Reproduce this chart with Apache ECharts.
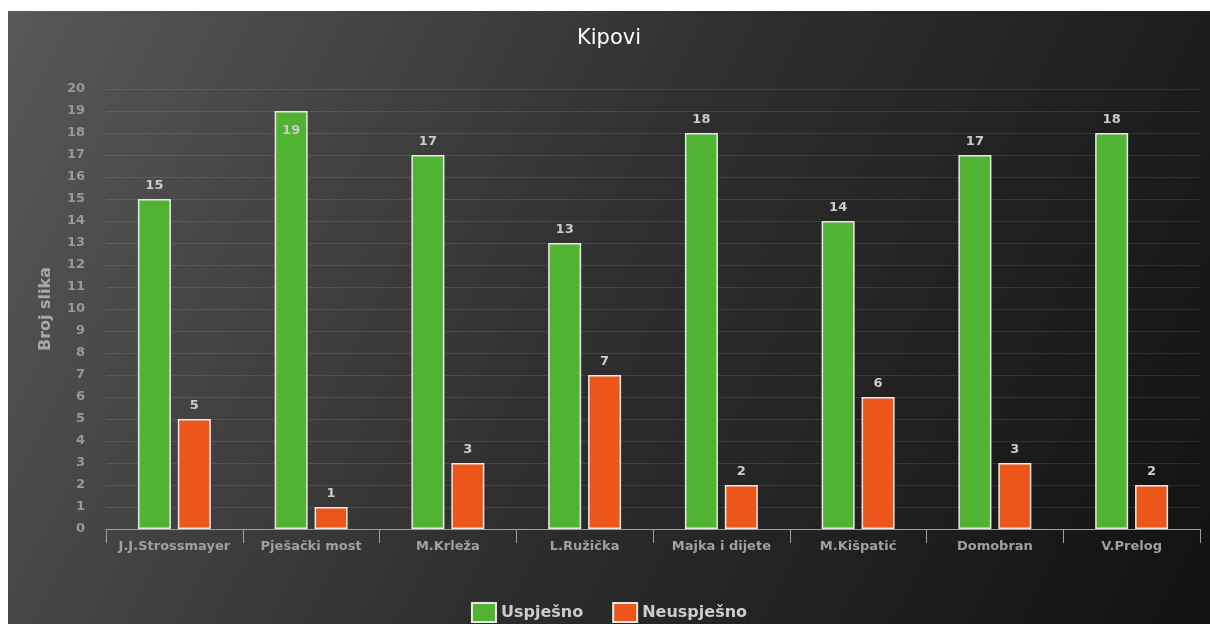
<!DOCTYPE html>
<html>
<head>
<meta charset="utf-8">
<script src="https://cdn.jsdelivr.net/npm/echarts@6/dist/echarts.min.js"></script>
<style>
  body { margin: 0; background: #fff; }
  #chart { position: absolute; left: 8px; top: 11px; width: 1202px; height: 613px; }
</style>
</head>
<body>
<div id="chart"></div>
<script>
  // kategorije i vrijednosti
  var categories = ['J.J.Strossmayer', 'Pješački most', 'M.Krleža', 'L.Ružička', 'Majka i dijete', 'M.Kišpatić', 'Domobran', 'V.Prelog'];
  var uspjesno = [15, 19, 17, 13, 18, 14, 17, 18];
  var neuspjesno = [5, 1, 3, 7, 2, 6, 3, 2];

  var labelFont = { fontFamily: 'DejaVu Sans', fontWeight: 'bold', fontSize: 13, color: '#cccccc' };

  // vrh skale: oznaka ide unutar stupca (kao u originalu)
  var greenData = uspjesno.map(function (v) {
    if (v >= 19) {
      return { value: v, label: { position: 'insideTop', distance: 13 } };
    }
    return v;
  });

  var myChart = echarts.init(document.getElementById('chart'));
  var option = {
    backgroundColor: {
      type: 'linear', x: 0, y: 0, x2: 1, y2: 1,
      colorStops: [
        { offset: 0, color: '#585858' },
        { offset: 0.5, color: '#2e2e2e' },
        { offset: 1, color: '#111111' }
      ]
    },
    color: ['#50B432', '#ED561B'],
    title: {
      text: 'Kipovi',
      left: 'center',
      top: 12,
      textStyle: { color: '#ffffff', fontSize: 21, fontWeight: 'normal', fontFamily: 'DejaVu Sans' }
    },
    legend: {
      data: ['Uspješno', 'Neuspješno'],
      left: 'center',
      top: 586,
      icon: 'rect',
      itemWidth: 24,
      itemHeight: 19,
      itemGap: 29,
      selectedMode: false,
      textStyle: { color: '#cccccc', fontSize: 16, fontWeight: 'bold', fontFamily: 'DejaVu Sans' }
    },
    grid: { left: 98, right: 10, top: 78, bottom: 95 },
    xAxis: {
      type: 'category',
      data: categories,
      axisLine: { lineStyle: { color: '#a0a0a0', width: 1 } },
      axisTick: { show: true, interval: 0, length: 14, lineStyle: { color: '#a0a0a0' } },
      axisLabel: { interval: 0, color: '#a0a0a0', fontSize: 13, fontWeight: 'bold', fontFamily: 'DejaVu Sans', margin: 11 }
    },
    yAxis: {
      type: 'value',
      min: 0,
      max: 20,
      interval: 1,
      name: 'Broj slika',
      nameLocation: 'middle',
      nameGap: 52,
      nameTextStyle: { color: '#a8a8a8', fontSize: 16, fontWeight: 'bold', fontFamily: 'DejaVu Sans' },
      axisLine: { show: false },
      axisTick: { show: false },
      axisLabel: { color: '#999999', fontSize: 13, fontWeight: 'bold', fontFamily: 'DejaVu Sans', margin: 21 },
      splitLine: { lineStyle: { color: 'rgba(255,255,255,0.1)', width: 1 } }
    },
    series: [
      {
        name: 'Uspješno',
        type: 'bar',
        data: greenData,
        barWidth: 33,
        barGap: '21%',
        itemStyle: { borderColor: '#e8e8e8', borderWidth: 1.5 },
        label: Object.assign({ show: true, position: 'top', distance: 7 }, labelFont)
      },
      {
        name: 'Neuspješno',
        type: 'bar',
        data: neuspjesno,
        barWidth: 33,
        itemStyle: { borderColor: '#e8e8e8', borderWidth: 1.5 },
        label: Object.assign({ show: true, position: 'top', distance: 7 }, labelFont)
      }
    ]
  };
  myChart.setOption(option);
</script>
</body>
</html>
